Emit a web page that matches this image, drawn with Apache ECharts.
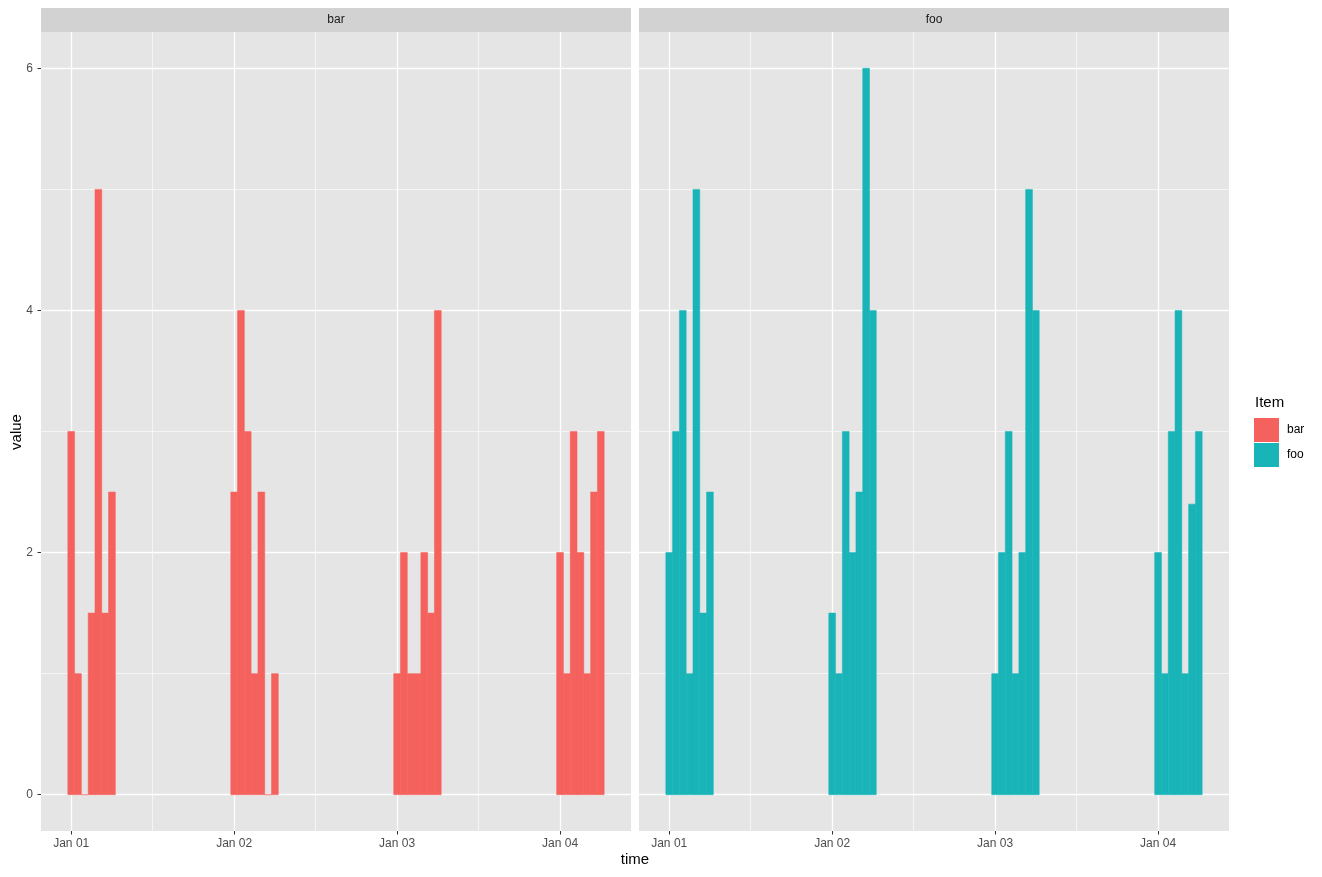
<!DOCTYPE html>
<html>
<head>
<meta charset="utf-8">
<script src="https://cdn.jsdelivr.net/npm/echarts@6/dist/echarts.min.js"></script>
<style>
html,body{margin:0;padding:0;background:#fff;}
#chart{width:1322px;height:877px;}
</style>
</head>
<body>
<div id="chart"></div>
<script>
// ---- data ----
const days = ['Jan 01', 'Jan 02', 'Jan 03', 'Jan 04'];
const hours = [0, 1, 2, 3, 4, 5, 6];
const facets = ['bar', 'foo'];
const barValues = [
  [3, 1, 0, 1.5, 5, 1.5, 2.5],
  [2.5, 4, 3, 1, 2.5, 0, 1],
  [1, 2, 1, 1, 2, 1.5, 4],
  [2, 1, 3, 2, 1, 2.5, 3]
];
const fooValues = [
  [2, 3, 4, 1, 5, 1.5, 2.5],
  [1.5, 1, 3, 2, 2.5, 6, 4],
  [1, 2, 3, 1, 2, 5, 4],
  [2, 1, 3, 4, 1, 2.4, 3]
];
const yTicks = [0, 2, 4, 6];
const yMinorTicks = [1, 3, 5];

// ---- build ----
function toPoints(vals) {
  const pts = [];
  vals.forEach((dayVals, d) => {
    dayVals.forEach((v, i) => pts.push([d * 24 + hours[i], v]));
  });
  return pts;
}
const dayTicks = days.map((_, i) => i * 24);
const noonTicks = days.slice(0, 3).map((_, i) => i * 24 + 12);

const FONT = 'Liberation Sans, Arial, Helvetica, sans-serif';
const COLORS = ['#F5615C', '#19B4B8'];
const XMIN = -4.45, XMAX = 82.45;
const YMIN = -0.3, YMAX = 6.3;

const grids = [
  { left: 41, top: 32, width: 590, height: 799 },
  { left: 639, top: 32, width: 590, height: 799 }
];

const xAxes = [], yAxes = [];
grids.forEach((g, gi) => {
  xAxes.push({
    type: 'value', gridIndex: gi, min: XMIN, max: XMAX, position: 'bottom',
    axisLine: { show: false, onZero: false },
    axisTick: { show: true, length: 3.5, lineStyle: { color: '#333', width: 1 }, customValues: dayTicks },
    axisLabel: { show: true, customValues: dayTicks, margin: 7, color: '#4d4d4d', fontSize: 12, fontFamily: FONT,
      formatter: v => days[Math.round(v / 24)] },
    splitLine: { show: true, lineStyle: { color: '#ffffff', width: 1.3 } }
  });
  xAxes.push({
    type: 'value', gridIndex: gi, min: XMIN, max: XMAX, position: 'bottom',
    axisLine: { show: false, onZero: false },
    axisTick: { show: false, customValues: noonTicks },
    axisLabel: { show: false, customValues: noonTicks },
    splitLine: { show: true, lineStyle: { color: '#ffffff', width: 0.6 } }
  });
  yAxes.push({
    type: 'value', gridIndex: gi, min: YMIN, max: YMAX, position: 'left',
    axisLine: { show: false, onZero: false },
    axisTick: { show: gi === 0, length: 3.5, lineStyle: { color: '#333', width: 1 }, customValues: yTicks },
    axisLabel: { show: gi === 0, customValues: yTicks, margin: 8, color: '#4d4d4d', fontSize: 12, fontFamily: FONT },
    splitLine: { show: true, lineStyle: { color: '#ffffff', width: 1.3 } }
  });
  yAxes.push({
    type: 'value', gridIndex: gi, min: YMIN, max: YMAX, position: 'left',
    axisLine: { show: false, onZero: false },
    axisTick: { show: false, customValues: yMinorTicks },
    axisLabel: { show: false, customValues: yMinorTicks },
    splitLine: { show: true, lineStyle: { color: '#ffffff', width: 0.6 } }
  });
});

function renderBar(params, api) {
  const x = api.value(0), y = api.value(1);
  const p0 = api.coord([x - 0.5, y]);
  const p1 = api.coord([x + 0.5, 0]);
  const c = api.visual('color');
  return {
    type: 'rect',
    shape: { x: p0[0], y: p0[1], width: p1[0] - p0[0], height: p1[1] - p0[1] },
    style: { fill: c, stroke: c, lineWidth: 0.5 }
  };
}

const seriesData = [barValues, fooValues];
const series = facets.map((name, i) => ({
  type: 'custom', name: name,
  xAxisIndex: i * 2, yAxisIndex: i * 2,
  itemStyle: { color: COLORS[i] },
  renderItem: renderBar,
  encode: { x: 0, y: 1 },
  data: toPoints(seriesData[i])
}));

const graphics = [];
grids.forEach((g, gi) => {
  graphics.push({ type: 'rect', left: g.left, top: 8, shape: { width: g.width, height: 24 }, style: { fill: '#d2d2d2' }, silent: true });
  graphics.push({ type: 'text', x: g.left + g.width / 2, y: 20, style: { text: facets[gi], fill: '#1a1a1a', font: '12px ' + FONT, textAlign: 'center', textVerticalAlign: 'middle' } });
});
graphics.push({ type: 'text', x: 635, y: 860, style: { text: 'time', fill: '#000', font: '15px ' + FONT, textAlign: 'center', textVerticalAlign: 'middle' } });
graphics.push({ type: 'text', x: 17, y: 432, rotation: Math.PI / 2, style: { text: 'value', fill: '#000', font: '15px ' + FONT, textAlign: 'center', textVerticalAlign: 'middle' } });
graphics.push({ type: 'text', x: 1255, y: 403, style: { text: 'Item', fill: '#000', font: '15px ' + FONT, textAlign: 'left', textVerticalAlign: 'middle' } });

const chart = echarts.init(document.getElementById('chart'), null, { renderer: 'canvas' });
chart.setOption({
  animation: false,
  backgroundColor: '#ffffff',
  grid: grids.map(g => Object.assign({ backgroundColor: '#e5e5e5', show: true, borderWidth: 0 }, g)),
  xAxis: xAxes,
  yAxis: yAxes,
  legend: {
    orient: 'vertical', left: 1254, top: 418, padding: 0,
    itemWidth: 25, itemHeight: 24, itemGap: 1,
    icon: 'rect',
    data: facets,
    textStyle: { color: '#000', fontSize: 12, fontFamily: FONT, padding: [3, 0, 0, 3] }
  },
  graphic: graphics,
  series: series
});
</script>
</body>
</html>
